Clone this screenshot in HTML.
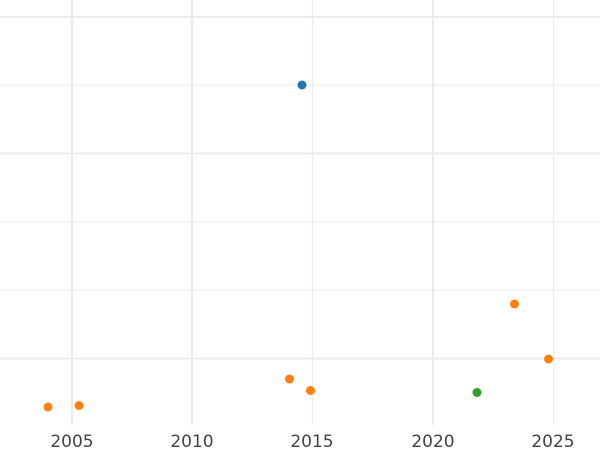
<!DOCTYPE html><html><head><style>body{margin:0;background:#fff}</style></head><body>
<svg width="600" height="450" xmlns="http://www.w3.org/2000/svg">
<g stroke="#ebebeb">
<line x1="0" y1="17" x2="600" y2="17" stroke-width="2"/>
<line x1="0" y1="85" x2="600" y2="85" stroke-width="1"/>
<line x1="0" y1="153.5" x2="600" y2="153.5" stroke-width="2"/>
<line x1="0" y1="222" x2="600" y2="222" stroke-width="1"/>
<line x1="0" y1="290" x2="600" y2="290" stroke-width="1"/>
<line x1="0" y1="358.5" x2="600" y2="358.5" stroke-width="2"/>
<line x1="72" y1="0" x2="72" y2="425" stroke-width="2"/>
<line x1="192" y1="0" x2="192" y2="425" stroke-width="2"/>
<line x1="312.5" y1="0" x2="312.5" y2="425" stroke-width="1.2"/>
<line x1="433" y1="0" x2="433" y2="425" stroke-width="2"/>
<line x1="553.5" y1="0" x2="553.5" y2="425" stroke-width="1.2"/>
</g>
<circle cx="302" cy="85" r="4.5" fill="#1f77b4"/>
<g fill="#ff7f0e">
<circle cx="48" cy="407" r="4.5"/><circle cx="79" cy="405.5" r="4.5"/>
<circle cx="289.5" cy="379" r="4.5"/><circle cx="310.5" cy="390.5" r="4.5"/>
<circle cx="514.5" cy="304" r="4.5"/><circle cx="548.5" cy="359" r="4.5"/>
</g>
<circle cx="477" cy="392.5" r="4.5" fill="#2ca02c"/>
<g font-family="DejaVu Sans, sans-serif" font-size="17" fill="#444" text-anchor="middle">
<text x="72" y="447">2005</text><text x="192" y="447">2010</text><text x="312" y="447">2015</text><text x="433" y="447">2020</text><text x="553" y="447">2025</text>
</g>
</svg></body></html>
